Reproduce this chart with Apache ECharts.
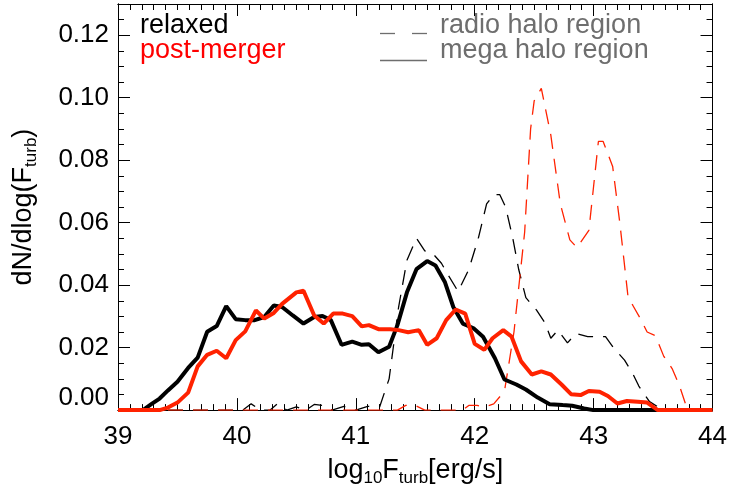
<!DOCTYPE html>
<html><head><meta charset="utf-8">
<script src="https://cdn.jsdelivr.net/npm/echarts@6/dist/echarts.min.js"></script>
<style>html,body{margin:0;padding:0;background:#fff}#c{width:730px;height:492px}</style>
</head><body><div id="c"></div>
<script>
// ---- data ----
const xLabels = [39, 40, 41, 42, 43, 44];
const yLabels = ['0.00', '0.02', '0.04', '0.06', '0.08', '0.10', '0.12'];

// relaxed, mega halo region (black solid)
const relaxedMegaX = [39.0, 39.21, 39.28, 39.35, 39.42, 39.50, 39.59, 39.67, 39.75, 39.83, 39.91, 39.99, 40.07, 40.15, 40.23, 40.31, 40.38, 40.47, 40.56, 40.65, 40.72, 40.79, 40.88, 40.97, 41.05, 41.11, 41.19, 41.28, 41.35, 41.43, 41.51, 41.60, 41.67, 41.75, 41.82, 41.90, 41.99, 42.07, 42.17, 42.25, 42.35, 42.43, 42.53, 42.63, 42.74, 42.82, 42.92, 43.0, 44.0];
const relaxedMegaY = [0, 0, 0.0019, 0.0037, 0.0063, 0.0091, 0.0135, 0.0168, 0.0251, 0.0269, 0.0333, 0.0291, 0.0288, 0.0288, 0.0298, 0.0335, 0.0330, 0.0303, 0.0277, 0.0298, 0.0301, 0.0288, 0.0209, 0.0219, 0.0209, 0.0211, 0.0185, 0.0203, 0.0272, 0.0377, 0.0451, 0.0477, 0.0463, 0.0409, 0.0330, 0.0277, 0.0262, 0.0235, 0.0166, 0.0098, 0.0082, 0.0066, 0.0040, 0.0019, 0.0016, 0.0014, 0.0005, 0, 0];

// post-merger, mega halo region (red solid)
const mergerMegaX = [39.0, 39.35, 39.42, 39.50, 39.59, 39.67, 39.75, 39.83, 39.91, 39.99, 40.07, 40.16, 40.23, 40.31, 40.38, 40.50, 40.56, 40.65, 40.73, 40.81, 40.89, 40.97, 41.05, 41.11, 41.19, 41.29, 41.36, 41.44, 41.53, 41.60, 41.68, 41.76, 41.84, 41.92, 42.0, 42.08, 42.15, 42.24, 42.31, 42.39, 42.48, 42.56, 42.64, 42.73, 42.81, 42.89, 42.96, 43.05, 43.12, 43.20, 43.28, 43.37, 43.45, 43.54, 44.0];
const mergerMegaY = [0, 0, 0.0008, 0.0024, 0.0056, 0.0140, 0.0177, 0.0190, 0.0166, 0.0224, 0.0252, 0.0319, 0.0293, 0.0311, 0.0340, 0.0377, 0.0382, 0.0303, 0.0277, 0.0309, 0.0309, 0.0301, 0.0268, 0.0272, 0.0259, 0.0259, 0.0256, 0.0249, 0.0256, 0.0209, 0.0230, 0.0288, 0.0322, 0.0309, 0.0212, 0.0193, 0.0230, 0.0256, 0.0235, 0.0156, 0.0114, 0.0124, 0.0114, 0.0082, 0.0051, 0.0048, 0.0061, 0.0059, 0.0045, 0.0021, 0.0029, 0.0027, 0.0024, 0, 0];

// relaxed, radio halo region (black dashed)
const relaxedRadioX = [39.0, 40.05, 40.12, 40.2, 40.28, 40.34, 40.42, 40.5, 40.58, 40.65, 40.72, 40.8, 40.9, 41.0, 41.1, 41.2, 41.28, 41.36, 41.43, 41.51, 41.58, 41.65, 41.72, 41.78, 41.86, 41.95, 42.03, 42.1, 42.16, 42.21, 42.26, 42.32, 42.37, 42.43, 42.52, 42.59, 42.64, 42.70, 42.78, 42.85, 42.95, 43.1, 43.17, 43.26, 43.33, 43.38, 43.47, 43.55, 43.6, 44.0];
const relaxedRadioY = [0, 0, 0.0020, 0, 0, 0.0020, 0, 0.0010, 0, 0.0018, 0.0015, 0, 0.0012, 0, 0.0012, 0.0010, 0.0100, 0.0330, 0.0480, 0.0550, 0.0510, 0.0500, 0.0470, 0.0430, 0.0380, 0.0450, 0.0550, 0.0660, 0.0690, 0.0690, 0.0650, 0.0550, 0.0450, 0.0360, 0.0320, 0.0280, 0.0230, 0.0256, 0.0215, 0.0245, 0.0235, 0.0235, 0.0198, 0.0160, 0.0116, 0.0077, 0.0027, 0.0008, 0, 0];

// post-merger, radio halo region (red dashed)
const mergerRadioX = [39.0, 41.35, 41.42, 41.5, 41.58, 41.9, 41.95, 42.02, 42.08, 42.16, 42.25, 42.33, 42.42, 42.47, 42.50, 42.56, 42.64, 42.72, 42.80, 42.86, 42.96, 43.04, 43.08, 43.16, 43.22, 43.29, 43.33, 43.39, 43.45, 43.52, 43.59, 43.66, 43.72, 43.79, 44.0];
const mergerRadioY = [0, 0, 0.0015, 0.0015, 0, 0, 0.0015, 0.0015, 0.0010, 0.0020, 0.0060, 0.0250, 0.0570, 0.0900, 0.0990, 0.1030, 0.0880, 0.0660, 0.0545, 0.0520, 0.0575, 0.0860, 0.0860, 0.0780, 0.0600, 0.0360, 0.0335, 0.0295, 0.0250, 0.0238, 0.0172, 0.0133, 0.0080, 0, 0];

const zip = (xs, ys) => xs.map((x, i) => [x, ys[i]]);

const FONT = '"Liberation Sans", Arial, Helvetica, sans-serif';
const RED_LINE = '#ff2200';
const GRAY = '#6e6e6e';

const chart = echarts.init(document.getElementById('c'), null, {renderer: 'canvas'});

function xAxisDef(pos, major) {
  return {
    type: 'value', position: pos, min: 39, max: 44, interval: major ? 1 : 0.1,
    axisLine: {show: true, onZero: false, lineStyle: {color: '#000', width: 1}},
    axisTick: {show: true, inside: true, length: major ? 12 : 6, lineStyle: {color: '#000', width: 1}},
    axisLabel: {show: major && pos === 'bottom', margin: 14, color: '#000', fontSize: 26, fontFamily: FONT,
      formatter: v => xLabels.includes(v) ? String(v) : ''},
    splitLine: {show: false},
    name: (major && pos === 'bottom') ? 'log{s|10}F{s|turb}[erg/s]' : '',
    nameLocation: 'middle', nameGap: 34,
    nameTextStyle: {color: '#000', fontSize: 27, fontFamily: FONT, lineHeight: 32,
      rich: {s: {fontSize: 17, fontFamily: FONT, color: '#000', verticalAlign: 'bottom', lineHeight: 18}}}
  };
}
function yAxisDef(pos, major) {
  return {
    type: 'value', position: pos, min: 0, max: 0.13, interval: major ? 0.02 : 0.005,
    axisLine: {show: true, onZero: false, lineStyle: {color: '#000', width: 1}},
    axisTick: {show: true, inside: true, length: major ? 12 : 6, lineStyle: {color: '#000', width: 1}},
    axisLabel: {show: major && pos === 'left', margin: 9, color: '#000', fontSize: 26, fontFamily: FONT,
      showMaxLabel: false,
      formatter: v => {
        const s = v.toFixed(2);
        if (!yLabels.includes(s)) return '';
        return v === 0 ? '{z|' + s + '}' : s;
      },
      rich: {z: {fontSize: 26, fontFamily: FONT, color: '#000', padding: [0, 0, 24, 0]}}},
    splitLine: {show: false},
    name: (major && pos === 'left') ? 'dN/dlog(F{s|turb})' : '',
    nameLocation: 'middle', nameGap: 78,
    nameTextStyle: {color: '#000', fontSize: 27, fontFamily: FONT, lineHeight: 32,
      rich: {s: {fontSize: 17, fontFamily: FONT, color: '#000', verticalAlign: 'bottom', lineHeight: 18}}}
  };
}

const option = {
  backgroundColor: '#fff',
  animation: false,
  grid: {left: 117, right: 16, top: 4, bottom: 76, containLabel: false},
  xAxis: [xAxisDef('bottom', true), xAxisDef('bottom', false), xAxisDef('top', true), xAxisDef('top', false)],
  yAxis: [yAxisDef('left', true), yAxisDef('left', false), yAxisDef('right', true), yAxisDef('right', false)],
  series: [
    {name: 'relaxed radio halo region', type: 'line', xAxisIndex: 0, yAxisIndex: 0, showSymbol: false,
     data: zip(relaxedRadioX, relaxedRadioY), lineStyle: {color: '#000', width: 1.3, type: [15, 10]}},
    {name: 'post-merger radio halo region', type: 'line', xAxisIndex: 0, yAxisIndex: 0, showSymbol: false,
     data: zip(mergerRadioX, mergerRadioY), lineStyle: {color: RED_LINE, width: 1.3, type: [15, 10]}},
    {name: 'relaxed mega halo region', type: 'line', xAxisIndex: 0, yAxisIndex: 0, showSymbol: false,
     data: zip(relaxedMegaX, relaxedMegaY), lineStyle: {color: '#000', width: 4}},
    {name: 'post-merger mega halo region', type: 'line', xAxisIndex: 0, yAxisIndex: 0, showSymbol: false,
     data: zip(mergerMegaX, mergerMegaY), lineStyle: {color: RED_LINE, width: 4}}
  ],
  graphic: [
    {type: 'text', x: 140, y: 26, style: {text: 'relaxed', fill: '#000', font: '27px ' + FONT, verticalAlign: 'middle'}},
    {type: 'text', x: 140, y: 51, style: {text: 'post-merger', fill: '#ff0000', font: '27px ' + FONT, verticalAlign: 'middle'}},
    {type: 'line', shape: {x1: 380, y1: 33.5, x2: 395, y2: 33.5}, style: {stroke: GRAY, lineWidth: 1.3}},
    {type: 'line', shape: {x1: 412, y1: 33.5, x2: 427, y2: 33.5}, style: {stroke: GRAY, lineWidth: 1.3}},
    {type: 'line', shape: {x1: 380, y1: 60.5, x2: 427, y2: 60.5}, style: {stroke: GRAY, lineWidth: 1.3}},
    {type: 'text', x: 440, y: 26, style: {text: 'radio halo region', fill: GRAY, font: '27px ' + FONT, verticalAlign: 'middle'}},
    {type: 'text', x: 440, y: 51, style: {text: 'mega halo region', fill: GRAY, font: '27px ' + FONT, verticalAlign: 'middle'}}
  ]
};
chart.setOption(option);
</script>
</body></html>
